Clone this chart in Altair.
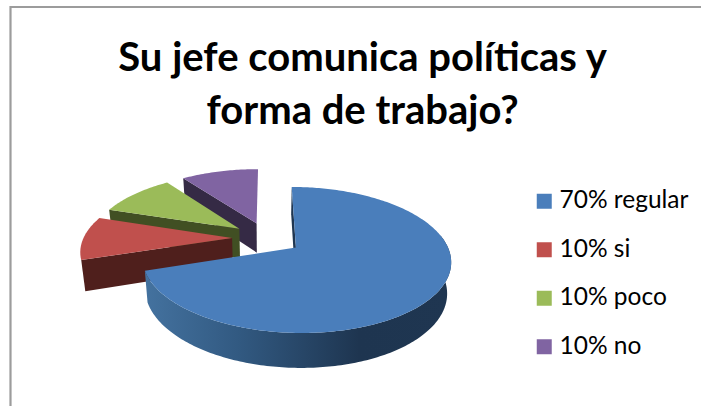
import math
import altair as alt
import pandas as pd

# Chart values
labels = ["70% regular", "10% si", "10% poco", "10% no"]
values = [70, 10, 10, 10]
top_colors = ["#4a7ebb", "#c0504d", "#9bbb59", "#8064a2"]
side_colors = ["#1f3651", "#4f1f1c", "#414f23", "#352a45"]
title_lines = ["Su jefe comunica políticas y", "forma de trabajo?"]

# Perspective view of the exploded pie
CX, CY = 267.0, 238.0
RX, RY = 148.6, 67.7
PERSP = 0.166
EXPLODE = 0.235
THICK = 30.0
SHRINK = 0.978
W, H = 701, 406


def project(px, pz, lower=False):
    s = 1.0 / (1.0 - PERSP * pz)
    k = SHRINK if lower else 1.0
    return (CX + RX * px * s * k, CY + RY * pz * s * k + (THICK * s if lower else 0.0))


def rim(off, deg, lower=False):
    a = math.radians(deg)
    return project(off[0] + math.sin(a), off[1] - math.cos(a), lower)


def frame(points):
    return pd.DataFrame(
        {"px": [p[0] for p in points], "py": [p[1] for p in points], "i": list(range(len(points)))}
    )


x_enc = alt.X("px:Q", scale=alt.Scale(domain=[0, W], range=[0, W]), axis=None)
y_enc = alt.Y("py:Q", scale=alt.Scale(domain=[0, H], range=[0, H]), axis=None)


def polygon(points, fill):
    return (
        alt.Chart(frame(points))
        .mark_line(filled=True, fill=fill, strokeWidth=0, interpolate="linear-closed", clip=False)
        .encode(x=x_enc, y=y_enc, order="i:Q")
    )


# Slice angles, clockwise from twelve o'clock
spans = []
start = 0.0
for v in values:
    spans.append((start, start + v * 3.6))
    start += v * 3.6

offsets = []
for a0, a1 in spans:
    mid = math.radians((a0 + a1) / 2)
    offsets.append((EXPLODE * math.sin(mid), -EXPLODE * math.cos(mid)))

front_wall = alt.LinearGradient(
    gradient="linear",
    x1=0, x2=1, y1=0, y2=0,
    stops=[
        alt.GradientStop(offset=0.0, color="#44729f"),
        alt.GradientStop(offset=0.3, color="#325a82"),
        alt.GradientStop(offset=0.7, color="#1e3550"),
        alt.GradientStop(offset=1.0, color="#1f3651"),
    ],
)

layers = []
# Back slices first, so that nearer ones paint over them
for idx in [3, 2, 1, 0]:
    a0, a1 = spans[idx]
    off = offsets[idx]
    apex_t = project(off[0], off[1])
    apex_b = project(off[0], off[1], True)
    if idx == 0:
        # thin cut face, then the curved outer wall of the large slice
        layers.append(polygon([apex_t, rim(off, a0), rim(off, a0, True), apex_b], side_colors[0]))
        degs = [d for d in range(80, int(a1) + 1)]
        wall = [rim(off, d) for d in degs] + [rim(off, d, True) for d in reversed(degs)]
        layers.append(polygon(wall, front_wall))
    else:
        # the cut face turned towards the viewer
        layers.append(polygon([apex_t, rim(off, a0), rim(off, a0, True), apex_b], side_colors[idx]))
    n = int(round(a1 - a0))
    arc = [rim(off, a0 + (a1 - a0) * j / n) for j in range(n + 1)]
    layers.append(polygon([apex_t] + arc, top_colors[idx]))

# Legend carried by zero-size squares
legend_data = pd.DataFrame({"label": labels, "value": values, "px": [0] * 4, "py": [0] * 4})
legend_layer = (
    alt.Chart(legend_data)
    .mark_square(size=0, filled=True)
    .encode(
        x=x_enc,
        y=y_enc,
        color=alt.Color(
            "label:N",
            scale=alt.Scale(domain=labels, range=top_colors),
            legend=alt.Legend(
                title=None,
                orient="none",
                legendX=532,
                legendY=189,
                symbolType="square",
                symbolSize=225,
                symbolStrokeWidth=0,
                symbolOpacity=1,
                labelFont="Lato",
                labelFontSize=24.5,
                labelColor="#000000",
                labelOffset=3,
                rowPadding=23.5,
                padding=0,
            ),
        ),
    )
)

# Two-line heading
title_data = pd.DataFrame({"px": [362.5, 362.5], "py": [71, 124], "t": title_lines})
title_layer = (
    alt.Chart(title_data)
    .mark_text(font="Lato", fontWeight="bold", fontSize=40, color="#000000", align="center", baseline="alphabetic")
    .encode(x=x_enc, y=y_enc, text="t:N")
)

# Frame lines along the top and left
rule_top = (
    alt.Chart(pd.DataFrame({"px": [10], "x2": [W], "py": [7]}))
    .mark_rule(color="#9c9c9c", strokeWidth=2.2)
    .encode(x=x_enc, x2="x2:Q", y=y_enc)
)
rule_left = (
    alt.Chart(pd.DataFrame({"px": [10.5], "py": [6], "y2": [H]}))
    .mark_rule(color="#9c9c9c", strokeWidth=2.2)
    .encode(x=x_enc, y=y_enc, y2="y2:Q")
)

chart = (
    alt.layer(rule_top, rule_left, *layers, legend_layer, title_layer)
    .properties(width=W, height=H, padding=0, autosize=alt.AutoSizeParams(type="none"), background="#ffffff")
    .configure_view(stroke=None)
)

chart.save("out.html", embed_options={"renderer": "svg", "actions": False})
